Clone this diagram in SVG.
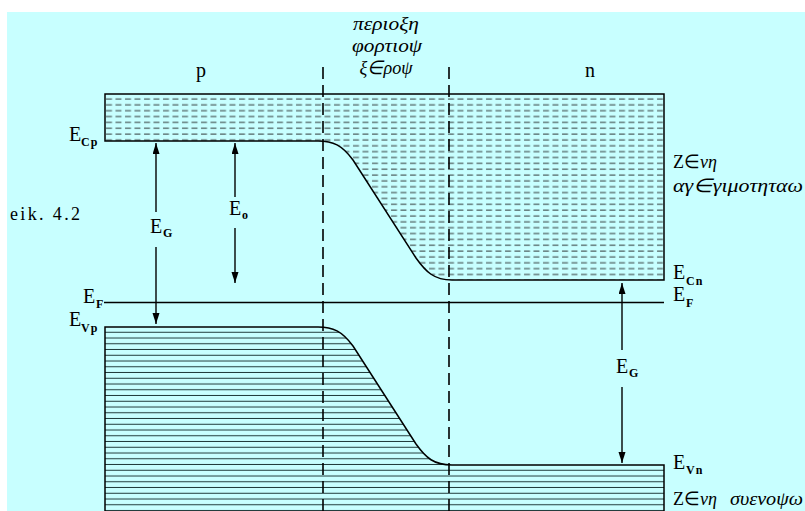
<svg xmlns="http://www.w3.org/2000/svg" width="805" height="511" viewBox="0 0 805 511">
<style>
.lbl{font-size:20px;fill:#000}
.sub{font-size:12px;font-weight:bold;fill:#000;letter-spacing:1px}
.gr{font-size:19px;font-style:italic;fill:#000}
.up{font-style:normal}
.cap{font-size:18px}
.edge{fill:none;stroke:#000;stroke-width:1.5}
.junc{fill:none;stroke:#000;stroke-width:1.6;stroke-dasharray:12 6}
.arr{fill:none;stroke:#000;stroke-width:1.4;marker-end:url(#ah)}
</style>
<defs>
<marker id="ah" markerUnits="userSpaceOnUse" markerWidth="12" markerHeight="8" refX="11" refY="3.5" orient="auto">
<path d="M0,0 L11,3.5 L0,7 Z" fill="#000"/>
</marker>
<pattern id="cb" patternUnits="userSpaceOnUse" x="105" y="94" width="9.5" height="5.85">
<path d="M1,5 H7" stroke="#3f4c4c" stroke-width="1.1"/>
</pattern>
<pattern id="vb" patternUnits="userSpaceOnUse" x="105" y="327" width="10" height="5.75">
<path d="M0,5.3 H10" stroke="#1f3a3a" stroke-width="1.1"/>
</pattern>
</defs>
<rect x="7" y="12" width="798" height="499" fill="#c8ffff"/>

<g id="conduction-band">
<path d="M105,94 L664,94 L664,280 L452,280 C434,280 426,272 416,258 L353,160 C342,145 333,141 318,141 L105,141 Z" fill="url(#cb)"/>
<path class="edge" d="M105,94 L664,94 L664,280 L452,280 C434,280 426,272 416,258 L353,160 C342,145 333,141 318,141 L105,141 Z"/>
</g>

<g id="valence-band">
<path d="M105,511 L105,327 L318,327 C333,327 342,331 353,346 L416,444 C426,458 434,465 452,465 L664,465 L664,511 Z" fill="url(#vb)"/>
<path class="edge" d="M105,511 L105,327 L318,327 C333,327 342,331 353,346 L416,444 C426,458 434,465 452,465 L664,465 L664,511"/>
</g>

<g id="fermi-level">
<path class="edge" d="M104,302.5 L664,302.5"/>
</g>

<g id="depletion-boundaries">
<path class="junc" d="M323,67 L323,511"/>
<path class="junc" d="M449,67 L449,511"/>
</g>

<g id="connectors">
<path class="arr" d="M156,212 L156,143"/>
<path class="arr" d="M156,247 L156,324"/>
<path class="arr" d="M235,197 L235,143"/>
<path class="arr" d="M235,228 L235,283"/>
<path class="arr" d="M622,350 L622,283"/>
<path class="arr" d="M622,387 L622,463"/>
</g>

<g id="region-labels" font-family="Liberation Serif, Times New Roman, serif">
<text class="lbl" x="201" y="77" text-anchor="middle">p</text>
<text class="lbl" x="590" y="77" text-anchor="middle">n</text>
<text class="gr" x="386" y="30" text-anchor="middle" textLength="66" lengthAdjust="spacingAndGlyphs">περιοξη</text>
<text class="gr" x="387" y="52" text-anchor="middle" textLength="70" lengthAdjust="spacingAndGlyphs">φορτιοψ</text>
<text class="gr" x="386" y="74" text-anchor="middle" textLength="53" lengthAdjust="spacingAndGlyphs">ξ∈ροψ</text>
<text class="lbl cap" x="10" y="220" textLength="70" lengthAdjust="spacing">eik. 4.2</text>
</g>

<g id="left-labels" font-family="Liberation Serif, Times New Roman, serif">
<text class="lbl" x="69" y="141">E</text><text class="sub" x="81" y="146">Cp</text>
<text class="lbl" x="83" y="303">E</text><text class="sub" x="96" y="308">F</text>
<text class="lbl" x="69" y="326">E</text><text class="sub" x="81" y="332">Vp</text>
<text class="lbl" x="150" y="233">E</text><text class="sub" x="163" y="237">G</text>
<text class="lbl" x="229" y="215">E</text><text class="sub" x="242" y="219">o</text>
</g>

<g id="right-labels" font-family="Liberation Serif, Times New Roman, serif">
<text class="gr" x="673" y="168" textLength="44" lengthAdjust="spacingAndGlyphs"><tspan class="up">Z∈</tspan>νη</text>
<text class="gr" x="673" y="192" textLength="130" lengthAdjust="spacingAndGlyphs">αγ∈γιμοτηταω</text>
<text class="lbl" x="673" y="279">E</text><text class="sub" x="686" y="285">Cn</text>
<text class="lbl" x="673" y="301">E</text><text class="sub" x="686" y="307">F</text>
<text class="lbl" x="616" y="373">E</text><text class="sub" x="629" y="377">G</text>
<text class="lbl" x="673" y="469">E</text><text class="sub" x="686" y="474">Vn</text>
<text class="gr" x="673" y="505" textLength="44" lengthAdjust="spacingAndGlyphs"><tspan class="up">Z∈</tspan>νη</text>
<text class="gr" x="730" y="505" textLength="73" lengthAdjust="spacingAndGlyphs">συενοψω</text>
</g>
</svg>
